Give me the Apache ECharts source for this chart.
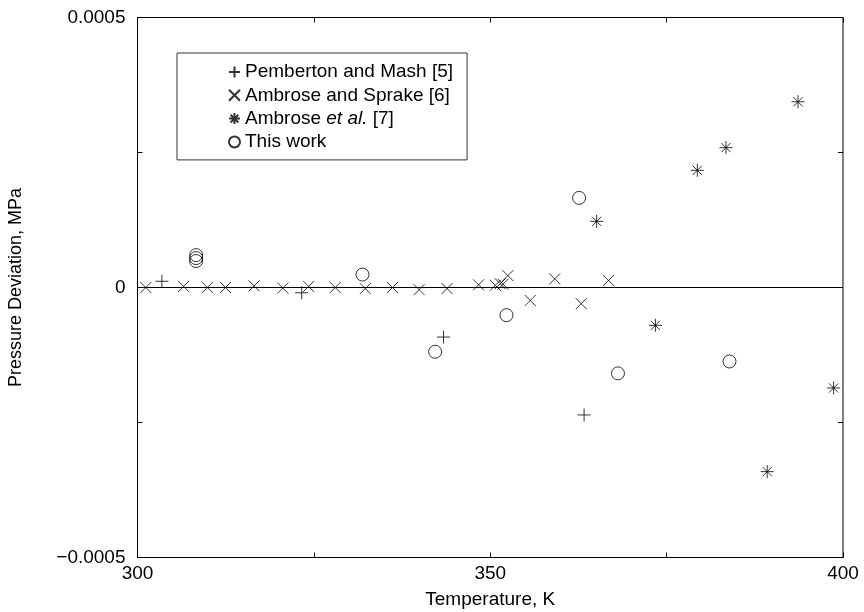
<!DOCTYPE html>
<html>
<head>
<meta charset="utf-8">
<script src="https://cdn.jsdelivr.net/npm/echarts@6/dist/echarts.min.js"></script>
<style>
html, body { margin: 0; padding: 0; background: #fff; }
#chart { width: 864px; height: 612px; }
</style>
</head>
<body>
<div id="chart"></div>
<script type="text/javascript">
// Pemberton and Mash [5]
var pembertonT   = [303.46, 323.27, 343.38, 363.30];
var pembertonDev = [0.0000115, -0.0000098, -0.0000918, -0.000236];

// Ambrose and Sprake [6]
var sprakeT   = [301.18, 306.53, 309.90, 312.47, 316.53, 320.60, 324.26, 328.03, 332.29, 336.15, 339.92,
                 343.88, 348.34, 350.72, 351.41, 351.81, 352.50, 355.67, 359.14, 362.90, 366.77];
var sprakeDev = [0, 0.000002, 0, 0, 0.000003, -0.000001, 0.000002, 0, -0.000002, 0, -0.000004,
                 -0.000002, 0.000005, 0.000004, 0.000007, 0.000006, 0.000022, -0.000024, 0.000016, -0.00003, 0.000013];

// Ambrose et al. [7]
var ambroseT   = [365.08, 373.41, 379.35, 383.41, 389.26, 393.62, 398.67];
var ambroseDev = [0.0001225, -0.00007, 0.000217, 0.000259, -0.000341, 0.000344, -0.000186];

// This work
var workT   = [308.31, 308.31, 308.31, 331.89, 342.19, 352.30, 362.60, 368.10, 383.91];
var workDev = [0.00006, 0.0000545, 0.000049, 0.000024, -0.000119, -0.0000512, 0.000166, -0.000159, -0.000137];

var xTicks = [300, 350, 400];
var yTicks = [-0.0005, 0, 0.0005];

function zip(xs, ys) {
	var out = [];
	for (var i = 0; i < xs.length; i++) out.push([xs[i], ys[i]]);
	return out;
}

var FONT = 'Liberation Sans';
var plusSym = 'path://M0,6L12,6M6,0L6,12';
var crossSym = 'path://M0,0L12,12M12,0L0,12';
var starSym = 'path://M6,0L6,12M0,6L12,6M1.76,1.76L10.24,10.24M10.24,1.76L1.76,10.24';

function markStyle() {
	return { color: 'transparent', borderColor: '#000', borderWidth: 1 };
}

var myChart = echarts.init(document.getElementById('chart'));
var option = {
	backgroundColor: '#fff',
	animation: false,
	textStyle: { fontFamily: FONT, color: '#000' },
	grid: {
		left: 137.5, right: 21, top: 17.5, bottom: 54.5,
		outerBoundsMode: 'none', containLabel: false,
		show: true, borderColor: '#000', borderWidth: 1
	},
	legend: {
		orient: 'vertical',
		left: 177, top: 53,
		padding: [9.5, 14, 8.5, 51],
		itemWidth: 11, itemHeight: 11, itemGap: 4.3,
		borderColor: '#333', borderWidth: 1,
		backgroundColor: '#fff',
		textStyle: {
			fontFamily: FONT, fontSize: 19, lineHeight: 19, color: '#000',
			rich: { i: { fontFamily: FONT, fontSize: 19, lineHeight: 19, fontStyle: 'italic', color: '#000' } }
		},
		formatter: function (name) {
			if (name === 'Ambrose et al. [7]') return 'Ambrose {i|et al.} [7]';
			return name;
		},
		data: ['Pemberton and Mash [5]', 'Ambrose and Sprake [6]', 'Ambrose et al. [7]', 'This work']
	},
	xAxis: [{
		type: 'value', min: 300, max: 400, interval: 50,
		name: 'Temperature, K', nameLocation: 'middle', nameGap: 33,
		nameTextStyle: { fontSize: 19, fontFamily: FONT, color: '#000' },
		axisLine: { onZero: false, lineStyle: { color: '#000', width: 1 } },
		axisTick: { inside: true, length: 5, lineStyle: { color: '#000' } },
		minorTick: { show: true, splitNumber: 2, length: 5, lineStyle: { color: '#000' } },
		splitLine: { show: false },
		axisLabel: {
			fontSize: 19, color: '#000', margin: 7,
			formatter: function (v) { return xTicks.indexOf(v) >= 0 ? String(v) : ''; }
		}
	}, {
		type: 'value', min: 300, max: 400, interval: 50, position: 'top',
		axisLine: { show: false, onZero: false },
		axisTick: { inside: true, length: 5, lineStyle: { color: '#000' } },
		minorTick: { show: true, splitNumber: 2, length: 5, lineStyle: { color: '#000' } },
		splitLine: { show: false },
		axisLabel: { show: false }
	}],
	yAxis: [{
		type: 'value', min: -0.0005, max: 0.0005, interval: 0.0005,
		name: 'Pressure Deviation, MPa', nameLocation: 'middle', nameGap: 112,
		nameTextStyle: { fontSize: 18, fontFamily: FONT, color: '#000' },
		axisLine: { show: true, onZero: false, lineStyle: { color: '#000', width: 1 } },
		axisTick: { inside: true, length: 5, lineStyle: { color: '#000' } },
		minorTick: { show: true, splitNumber: 2, length: 5, lineStyle: { color: '#000' } },
		splitLine: { show: false },
		axisLabel: {
			fontSize: 19, color: '#000', margin: 12,
			formatter: function (v) {
				if (Math.abs(v) < 1e-12) return '0';
				return v.toFixed(4).replace('-', '\u2212');
			}
		}
	}, {
		type: 'value', min: -0.0005, max: 0.0005, interval: 0.0005, position: 'right',
		axisLine: { show: false, onZero: false },
		axisTick: { inside: true, length: 5, lineStyle: { color: '#000' } },
		minorTick: { show: true, splitNumber: 2, length: 5, lineStyle: { color: '#000' } },
		splitLine: { show: false },
		axisLabel: { show: false }
	}],
	series: [{
		name: 'Pemberton and Mash [5]',
		type: 'scatter',
		symbol: plusSym, symbolSize: 13,
		itemStyle: markStyle(),
		data: zip(pembertonT, pembertonDev),
		markLine: {
			silent: true, symbol: 'none',
			label: { show: false },
			lineStyle: { color: '#000', width: 1, type: 'solid' },
			data: [{ yAxis: 0 }]
		}
	}, {
		name: 'Ambrose and Sprake [6]',
		type: 'scatter',
		symbol: crossSym, symbolSize: 11,
		itemStyle: markStyle(),
		data: zip(sprakeT, sprakeDev)
	}, {
		name: 'Ambrose et al. [7]',
		type: 'scatter',
		symbol: starSym, symbolSize: 13,
		itemStyle: markStyle(),
		data: zip(ambroseT, ambroseDev)
	}, {
		name: 'This work',
		type: 'scatter',
		symbol: 'circle', symbolSize: 13,
		itemStyle: markStyle(),
		data: zip(workT, workDev)
	}]
};
myChart.setOption(option);
</script>
</body>
</html>
